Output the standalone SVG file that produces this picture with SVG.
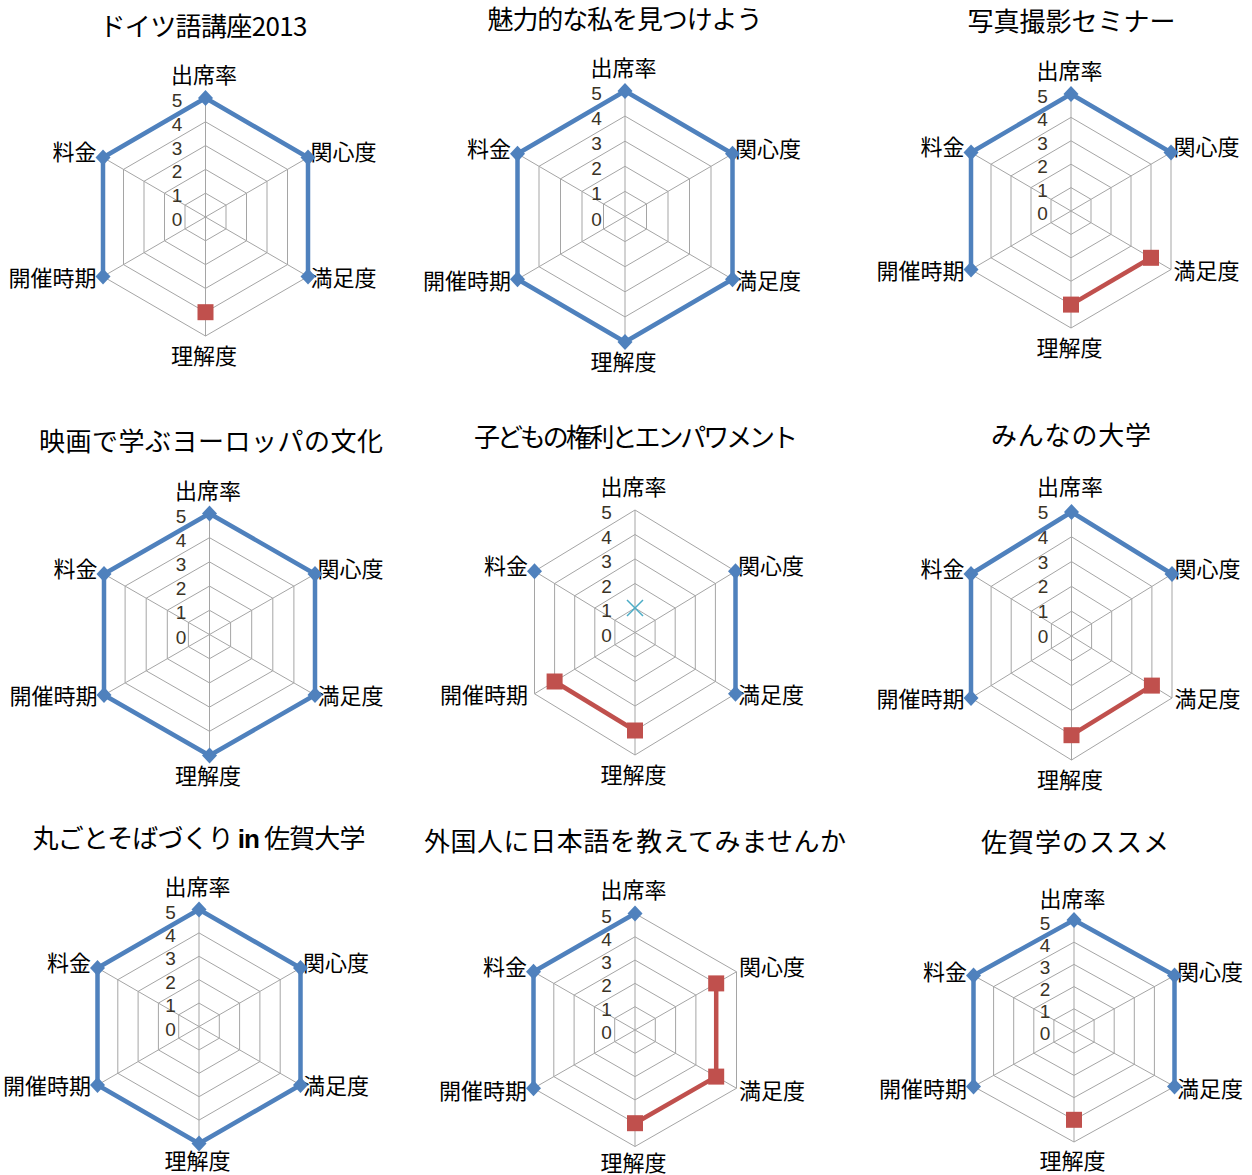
<svg xmlns="http://www.w3.org/2000/svg" xmlns:xlink="http://www.w3.org/1999/xlink" width="1252" height="1175" viewBox="0 0 1252 1175">
<style>
.g{fill:none;stroke:#a5a5a5;stroke-width:1;vector-effect:non-scaling-stroke}
.t{font-family:"Noto Sans CJK JP","Noto Sans CJK SC",sans-serif;font-size:26px;fill:#000;font-weight:400}
.l{font-family:"Noto Sans CJK JP","Noto Sans CJK SC",sans-serif;font-size:22px;fill:#000}
.r{text-anchor:end}
.m{text-anchor:middle}
.n{font-family:"Liberation Sans",Arial,sans-serif;font-size:19px;fill:#3a3326;text-anchor:middle}
.sb{fill:none;stroke:#4F81BD;stroke-width:4.5;stroke-linejoin:round}
.sr{fill:none;stroke:#C0504D;stroke-width:4.5;stroke-linejoin:round}
</style>
<defs>
<g id="grid">
<polygon class="g" points="0,-0.2 0.2,-0.1 0.2,0.1 0,0.2 -0.2,0.1 -0.2,-0.1"/>
<polygon class="g" points="0,-0.4 0.4,-0.2 0.4,0.2 0,0.4 -0.4,0.2 -0.4,-0.2"/>
<polygon class="g" points="0,-0.6 0.6,-0.3 0.6,0.3 0,0.6 -0.6,0.3 -0.6,-0.3"/>
<polygon class="g" points="0,-0.8 0.8,-0.4 0.8,0.4 0,0.8 -0.8,0.4 -0.8,-0.4"/>
<polygon class="g" points="0,-1 1,-0.5 1,0.5 0,1 -1,0.5 -1,-0.5"/>
<path class="g" d="M0,-1 V1 M1,-0.5 L-1,0.5 M1,0.5 L-1,-0.5"/>
</g>
<path id="dia" d="M0,-8 L7.5,0 L0,8 L-7.5,0Z" fill="#4F81BD"/>
<rect id="sq" x="-8" y="-8" width="16" height="16" fill="#C0504D"/>
</defs>

<g id="chart1">
<text class="t" x="99.5" y="36" textLength="208" lengthAdjust="spacing" font-weight="bold">ドイツ語講座2013</text>
<use href="#grid" transform="translate(205.5,217) scale(102.5,119)"/>
<text class="l m" x="204" y="83">出席率</text>
<text class="l" x="310.5" y="160.4">関心度</text>
<text class="l" x="310.5" y="285.9">満足度</text>
<text class="l m" x="204" y="364">理解度</text>
<text class="l r" x="96.5" y="285.9">開催時期</text>
<text class="l r" x="96.5" y="160.4">料金</text>
<g class="n"><text x="177" y="107">5</text><text x="177" y="130.8">4</text><text x="177" y="154.6">3</text><text x="177" y="178.4">2</text><text x="177" y="202.2">1</text><text x="177" y="226">0</text></g>
<polyline class="sb" points="103,276.5 103,157.5 205.5,98 308,157.5 308,276.5"/>
<use href="#dia" x="103" y="276.5"/><use href="#dia" x="103" y="157.5"/><use href="#dia" x="205.5" y="98"/><use href="#dia" x="308" y="157.5"/><use href="#dia" x="308" y="276.5"/>
<use href="#sq" x="205.5" y="312.2"/>
</g>

<g id="chart2">
<text class="t" x="487.5" y="29" textLength="275" lengthAdjust="spacing">魅力的な私を見つけよう</text>
<use href="#grid" transform="translate(625,216.5) scale(107.5,125.5)"/>
<text class="l m" x="623.5" y="76">出席率</text>
<text class="l" x="735" y="156.6">関心度</text>
<text class="l" x="735" y="288.6">満足度</text>
<text class="l m" x="623.5" y="370">理解度</text>
<text class="l r" x="511" y="288.6">開催時期</text>
<text class="l r" x="511" y="156.6">料金</text>
<g class="n"><text x="596.5" y="100">5</text><text x="596.5" y="125.1">4</text><text x="596.5" y="150.2">3</text><text x="596.5" y="175.3">2</text><text x="596.5" y="200.4">1</text><text x="596.5" y="225.5">0</text></g>
<polygon class="sb" points="625,91 732.5,153.75 732.5,279.25 625,342 517.5,279.25 517.5,153.75"/>
<use href="#dia" x="625" y="91"/><use href="#dia" x="732.5" y="153.75"/><use href="#dia" x="732.5" y="279.25"/><use href="#dia" x="625" y="342"/><use href="#dia" x="517.5" y="279.25"/><use href="#dia" x="517.5" y="153.75"/>
</g>

<g id="chart3">
<text class="t" x="967.5" y="31" textLength="208" lengthAdjust="spacing">写真撮影セミナー</text>
<use href="#grid" transform="translate(1071,211) scale(100,117)"/>
<text class="l m" x="1069.5" y="79">出席率</text>
<text class="l" x="1173.5" y="155.4">関心度</text>
<text class="l" x="1173.5" y="278.9">満足度</text>
<text class="l m" x="1069.5" y="356">理解度</text>
<text class="l r" x="964.5" y="278.9">開催時期</text>
<text class="l r" x="964.5" y="155.4">料金</text>
<g class="n"><text x="1042.5" y="103">5</text><text x="1042.5" y="126.4">4</text><text x="1042.5" y="149.8">3</text><text x="1042.5" y="173.2">2</text><text x="1042.5" y="196.6">1</text><text x="1042.5" y="220">0</text></g>
<polyline class="sb" points="971,269.5 971,152.5 1071,94 1171,152.5"/>
<use href="#dia" x="971" y="269.5"/><use href="#dia" x="971" y="152.5"/><use href="#dia" x="1071" y="94"/><use href="#dia" x="1171" y="152.5"/>
<polyline class="sr" points="1151,257.8 1071,304.6"/>
<use href="#sq" x="1151" y="257.8"/><use href="#sq" x="1071" y="304.6"/>
</g>

<g id="chart4">
<text class="t" x="39" y="451" textLength="344" lengthAdjust="spacing">映画で学ぶヨーロッパの文化</text>
<use href="#grid" transform="translate(209.5,634.5) scale(105.5,121)"/>
<text class="l m" x="208" y="498.5">出席率</text>
<text class="l" x="317.5" y="576.9">関心度</text>
<text class="l" x="317.5" y="704.4">満足度</text>
<text class="l m" x="208" y="783.5">理解度</text>
<text class="l r" x="97.5" y="704.4">開催時期</text>
<text class="l r" x="97.5" y="576.9">料金</text>
<g class="n"><text x="181" y="522.5">5</text><text x="181" y="546.7">4</text><text x="181" y="570.9">3</text><text x="181" y="595.1">2</text><text x="181" y="619.3">1</text><text x="181" y="643.5">0</text></g>
<polygon class="sb" points="209.5,513.5 315,574 315,695 209.5,755.5 104,695 104,574"/>
<use href="#dia" x="209.5" y="513.5"/><use href="#dia" x="315" y="574"/><use href="#dia" x="315" y="695"/><use href="#dia" x="209.5" y="755.5"/><use href="#dia" x="104" y="695"/><use href="#dia" x="104" y="574"/>
</g>

<g id="chart5">
<text class="t" x="474" y="447" textLength="324" lengthAdjust="spacing">子どもの権利とエンパワメント</text>
<use href="#grid" transform="translate(635,632.5) scale(100.5,122.5)"/>
<text class="l m" x="633.5" y="495">出席率</text>
<text class="l" x="738" y="574.1">関心度</text>
<text class="l" x="738" y="703.1">満足度</text>
<text class="l m" x="633.5" y="783">理解度</text>
<text class="l r" x="528" y="703.1">開催時期</text>
<text class="l r" x="528" y="574.1">料金</text>
<g class="n"><text x="606.5" y="519">5</text><text x="606.5" y="543.5">4</text><text x="606.5" y="568">3</text><text x="606.5" y="592.5">2</text><text x="606.5" y="617">1</text><text x="606.5" y="641.5">0</text></g>
<polyline class="sb" points="735.5,571.25 735.5,693.75"/>
<use href="#dia" x="534.5" y="571.25"/><use href="#dia" x="735.5" y="571.25"/><use href="#dia" x="735.5" y="693.75"/>
<polyline class="sr" points="554.6,681.5 635,730.5"/>
<use href="#sq" x="554.6" y="681.5"/><use href="#sq" x="635" y="730.5"/>
<path d="M627,600 L643,616 M627,616 L643,600" stroke="#4BACC6" stroke-width="1.5" fill="none"/>
</g>

<g id="chart6">
<text class="t" x="991" y="445" textLength="160" lengthAdjust="spacing">みんなの大学</text>
<use href="#grid" transform="translate(1071.5,636) scale(100.5,124)"/>
<text class="l m" x="1070" y="495">出席率</text>
<text class="l" x="1174.5" y="576.9">関心度</text>
<text class="l" x="1174.5" y="707.4">満足度</text>
<text class="l m" x="1070" y="788">理解度</text>
<text class="l r" x="964.5" y="707.4">開催時期</text>
<text class="l r" x="964.5" y="576.9">料金</text>
<g class="n"><text x="1043" y="519">5</text><text x="1043" y="543.8">4</text><text x="1043" y="568.6">3</text><text x="1043" y="593.4">2</text><text x="1043" y="618.2">1</text><text x="1043" y="643">0</text></g>
<polyline class="sb" points="971,698 971,574 1071.5,512 1172,574"/>
<use href="#dia" x="971" y="698"/><use href="#dia" x="971" y="574"/><use href="#dia" x="1071.5" y="512"/><use href="#dia" x="1172" y="574"/>
<polyline class="sr" points="1151.9,685.6 1071.5,735.2"/>
<use href="#sq" x="1151.9" y="685.6"/><use href="#sq" x="1071.5" y="735.2"/>
</g>

<g id="chart7">
<text class="t" x="32.5" y="848" textLength="333" lengthAdjust="spacing">丸ごとそばづくり <tspan font-weight="bold" font-family="Liberation Sans, sans-serif">in</tspan> 佐賀大学</text>
<use href="#grid" transform="translate(199,1026.5) scale(101.5,117)"/>
<text class="l m" x="197.5" y="894.5">出席率</text>
<text class="l" x="303" y="970.9">関心度</text>
<text class="l" x="303" y="1094.4">満足度</text>
<text class="l m" x="197.5" y="1169">理解度</text>
<text class="l r" x="91" y="1094.4">開催時期</text>
<text class="l r" x="91" y="970.9">料金</text>
<g class="n"><text x="170.5" y="918.5">5</text><text x="170.5" y="941.9">4</text><text x="170.5" y="965.3">3</text><text x="170.5" y="988.7">2</text><text x="170.5" y="1012.1">1</text><text x="170.5" y="1035.5">0</text></g>
<polygon class="sb" points="199,909.5 300.5,968 300.5,1085 199,1143.5 97.5,1085 97.5,968"/>
<use href="#dia" x="199" y="909.5"/><use href="#dia" x="300.5" y="968"/><use href="#dia" x="300.5" y="1085"/><use href="#dia" x="199" y="1143.5"/><use href="#dia" x="97.5" y="1085"/><use href="#dia" x="97.5" y="968"/>
</g>

<g id="chart8">
<text class="t" x="424" y="851" textLength="422" lengthAdjust="spacing">外国人に日本語を教えてみませんか</text>
<use href="#grid" transform="translate(635,1030) scale(101.5,116.5)"/>
<text class="l m" x="633.5" y="898">出席率</text>
<text class="l" x="739" y="975">関心度</text>
<text class="l" x="739" y="1098.5">満足度</text>
<text class="l m" x="633.5" y="1171">理解度</text>
<text class="l r" x="527" y="1098.5">開催時期</text>
<text class="l r" x="527" y="975">料金</text>
<g class="n"><text x="606.5" y="922.5">5</text><text x="606.5" y="945.8">4</text><text x="606.5" y="969.1">3</text><text x="606.5" y="992.4">2</text><text x="606.5" y="1015.7">1</text><text x="606.5" y="1039">0</text></g>
<polyline class="sb" points="533.5,1088.25 533.5,971.75 635,913.5"/>
<use href="#dia" x="533.5" y="1088.25"/><use href="#dia" x="533.5" y="971.75"/><use href="#dia" x="635" y="913.5"/>
<polyline class="sr" points="716.2,983.4 716.2,1076.6 635,1123.2"/>
<use href="#sq" x="716.2" y="983.4"/><use href="#sq" x="716.2" y="1076.6"/><use href="#sq" x="635" y="1123.2"/>
</g>

<g id="chart9">
<text class="t" x="981" y="852" textLength="188" lengthAdjust="spacing">佐賀学のススメ</text>
<use href="#grid" transform="translate(1074,1031) scale(100.5,111)"/>
<text class="l m" x="1072.5" y="906.5">出席率</text>
<text class="l" x="1177" y="979.5">関心度</text>
<text class="l" x="1177" y="1097">満足度</text>
<text class="l m" x="1072.5" y="1169">理解度</text>
<text class="l r" x="967" y="1097">開催時期</text>
<text class="l r" x="967" y="980">料金</text>
<g class="n"><text x="1045" y="930">5</text><text x="1045" y="952">4</text><text x="1045" y="974">3</text><text x="1045" y="996">2</text><text x="1045" y="1018">1</text><text x="1045" y="1040">0</text></g>
<polyline class="sb" points="973.5,1086.5 973.5,975.5 1074,920 1174.5,975.5 1174.5,1086.5"/>
<use href="#dia" x="973.5" y="1086.5"/><use href="#dia" x="973.5" y="975.5"/><use href="#dia" x="1074" y="920"/><use href="#dia" x="1174.5" y="975.5"/><use href="#dia" x="1174.5" y="1086.5"/>
<use href="#sq" x="1074" y="1119.8"/>
</g>
</svg>
